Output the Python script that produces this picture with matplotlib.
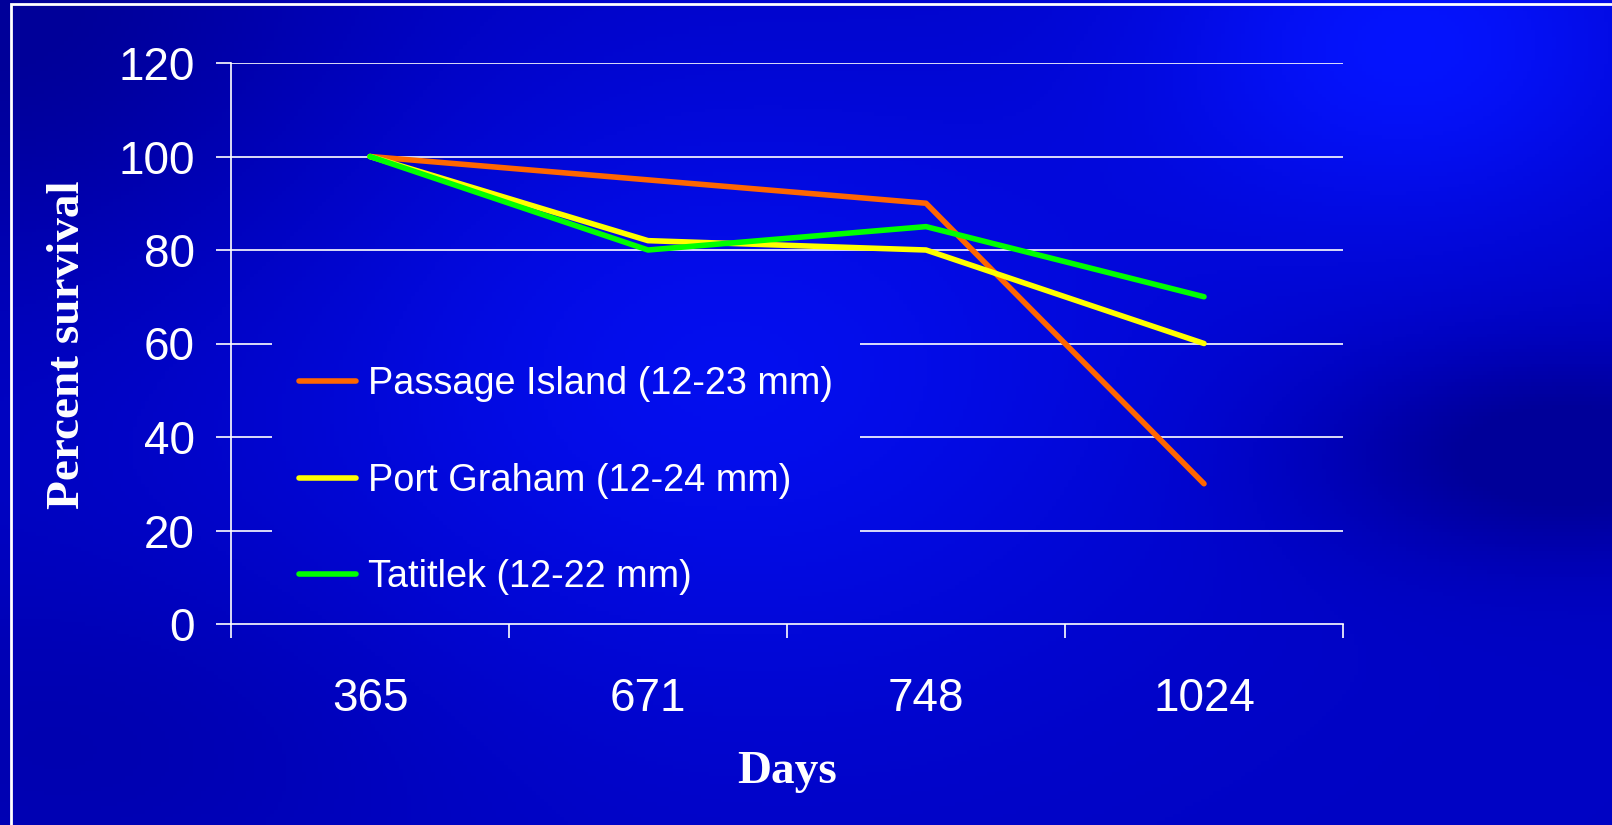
import numpy as np
import matplotlib
matplotlib.use("Agg")
import matplotlib.pyplot as plt
from matplotlib.path import Path
from matplotlib.transforms import IdentityTransform
from matplotlib.patches import Rectangle

# survival data
days = ["365", "671", "748", "1024"]
passage_island = [100, 95, 90, 30]
port_graham = [100, 82, 80, 60]
tatitlek = [100, 80, 85, 70]
series_names = ["Passage Island (12-23 mm)", "Port Graham (12-24 mm)", "Tatitlek (12-22 mm)"]
series_colors = ["#ff6600", "#ffff00", "#00ff00"]
yticks = [0, 20, 40, 60, 80, 100, 120]

W, H = 1612, 825
fig = plt.figure(figsize=(W / 100, H / 100), dpi=100)

# slide style blue background
bg = fig.add_axes([0, 0, 1, 1], zorder=-10)
u, v = np.meshgrid(np.linspace(0, 1, 400), np.linspace(0, 1, 220))
t = (0.42
     + 0.42 * np.exp(-((u - 0.45) ** 2 / 0.08 + (v - 0.45) ** 2 / 0.15))
     + 0.55 * np.exp(-((u - 0.88) ** 2 / 0.03 + (v - 0.05) ** 2 / 0.06))
     - 0.45 * np.exp(-((u - 0.0) ** 2 / 0.05 + (v - 0.0) ** 2 / 0.12))
     - 0.55 * np.exp(-((u - 0.97) ** 2 / 0.02 + (v - 0.55) ** 2 / 0.015))
     - 0.20 * np.exp(-((u - 0.05) ** 2 / 0.05 + (v - 0.9) ** 2 / 0.05)))
t = np.clip(t, 0, 1)
img = np.dstack([0.02 * t ** 2, 0.08 * t ** 2, 0.6 + 0.4 * t])
bg.imshow(img, aspect="auto", extent=[0, 1, 1, 0])
bg.set_xlim(0, 1)
bg.set_ylim(1, 0)
bg.axis("off")

# white slide frame
fig.patches.append(Rectangle((11 / W, -0.1), 1.2, 1.1 - 4 / H, transform=fig.transFigure,
                             fill=False, edgecolor="white", linewidth=2))

ax = fig.add_axes([231 / W, 1 - 624 / H, 1112 / W, 561 / H])
ax.set_facecolor("none")

x = np.arange(len(days)) + 0.5
for vals, name, col in zip([passage_island, port_graham, tatitlek], series_names, series_colors):
    ax.plot(x, vals, color=col, lw=4.0, label=name,
            solid_capstyle="round", solid_joinstyle="round", zorder=3)

ax.set_xlim(0, len(days))
ax.set_ylim(0, 120)
ax.set_yticks(yticks)
ax.set_xticks(np.arange(len(days) + 1))
ax.set_xticklabels([])
ax.set_xticks(x, minor=True)
ax.set_xticklabels(days, minor=True)

ax.tick_params(axis="y", colors="white", direction="out", length=11, width=1.2,
               labelsize=33, pad=15)
ax.tick_params(axis="x", which="major", colors="white", direction="out", length=10, width=1.2)
ax.tick_params(axis="x", which="minor", colors="white", length=0, labelsize=33, pad=38)
for lab in ax.get_xticklabels(minor=True) + ax.get_yticklabels():
    lab.set_fontfamily("Liberation Sans")

for s in ["top", "right"]:
    ax.spines[s].set_visible(False)
for s in ["left", "bottom"]:
    ax.spines[s].set_color("white")
    ax.spines[s].set_linewidth(1.2)

grid = [ax.axhline(yv, color="white", lw=1.2, zorder=1) for yv in yticks[1:]]

leg = ax.legend(loc="upper left", bbox_to_anchor=(0.037, 0.507), borderaxespad=0,
                frameon=False, handlelength=1.5, handletextpad=0.33,
                labelspacing=1.6, borderpad=0.7,
                prop={"family": "Liberation Sans", "size": 27.3})
for txt in leg.get_texts():
    txt.set_color("white")

fig.text(68 / W, 1 - 345 / H, "Percent survival", rotation=90, color="white",
         fontsize=34, fontweight="bold", family="Liberation Serif", ha="center", va="center")
fig.text(787 / W, 1 - 772 / H, "Days", color="white",
         fontsize=34, fontweight="bold", family="Liberation Serif", ha="center", va="center")

# keep the gridlines out of the legend area
fig.canvas.draw()
lb = leg.get_window_extent()
gap = 12
fb = fig.bbox
verts = [(fb.x0, fb.y0), (fb.x1, fb.y0), (fb.x1, fb.y1), (fb.x0, fb.y1), (fb.x0, fb.y0),
         (lb.x0, lb.y0 - gap), (lb.x0, lb.y1 + gap), (lb.x1, lb.y1 + gap),
         (lb.x1, lb.y0 - gap), (lb.x0, lb.y0 - gap)]
codes = [Path.MOVETO] + [Path.LINETO] * 3 + [Path.CLOSEPOLY] + \
        [Path.MOVETO] + [Path.LINETO] * 3 + [Path.CLOSEPOLY]
hole = Path(verts, codes)
for g in grid:
    g.set_clip_path(hole, IdentityTransform())

fig.savefig("out.png", dpi=100)
